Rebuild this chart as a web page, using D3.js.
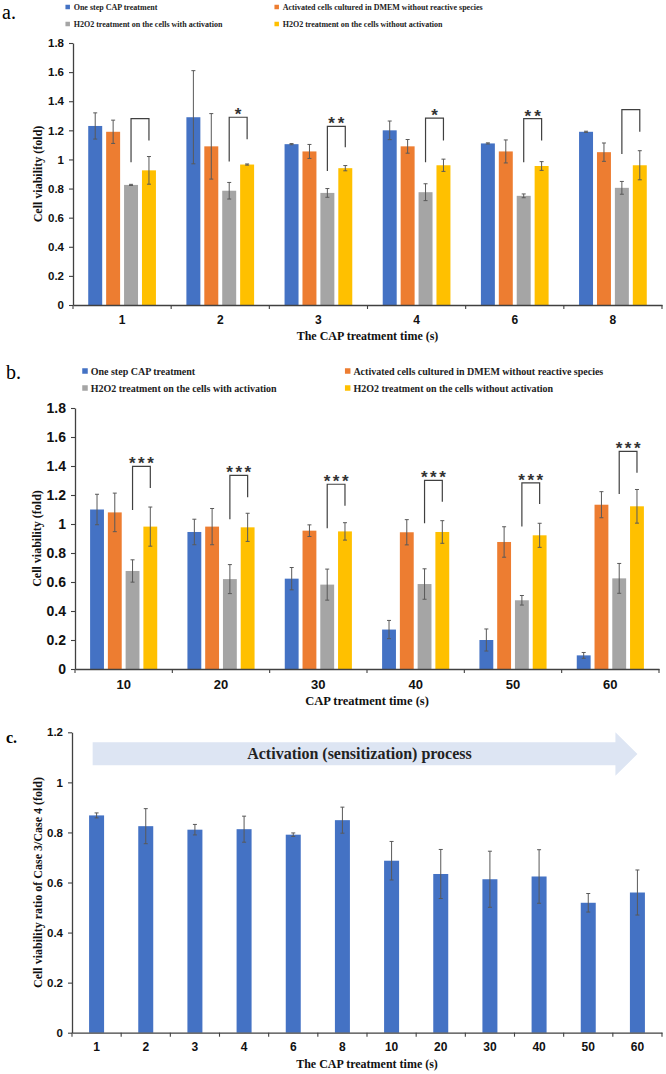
<!DOCTYPE html>
<html>
<head>
<meta charset="utf-8">
<script src="https://cdn.jsdelivr.net/npm/d3@7"></script>
<style>
  body { margin: 0; background: #fff; }
  svg { display: block; font-family: 'Liberation Serif', 'Times New Roman', serif; font-weight: bold; }
</style>
</head>
<body>
<script>
// legend / series
const seriesNames = [
    'One step CAP treatment',
    'Activated cells cultured in DMEM without reactive species',
    'H2O2 treatment on the cells with activation',
    'H2O2 treatment on the cells without activation'
];
const seriesColors = ['#4472C4', '#ED7D31', '#A5A5A5', '#FFC000'];

// panel a (short treatment times)
const timesA = ['1', '2', '3', '4', '6', '8'];
const oneStepA = [1.23, 1.29, 1.105, 1.20, 1.11, 1.19];
const oneStepErrA = [0.09, 0.32, 0.004, 0.064, 0.004, 0.004];
const activatedA = [1.19, 1.09, 1.055, 1.09, 1.055, 1.05];
const activatedErrA = [0.08, 0.225, 0.048, 0.047, 0.079, 0.063];
const h2o2ActA = [0.825, 0.785, 0.77, 0.775, 0.75, 0.805];
const h2o2ActErrA = [0.004, 0.057, 0.03, 0.058, 0.013, 0.044];
const h2o2NoActA = [0.925, 0.965, 0.94, 0.96, 0.955, 0.96];
const h2o2NoActErrA = [0.095, 0.004, 0.018, 0.042, 0.03, 0.1];
const bracketTopA = [1.28, 1.29, 1.227, 1.284, 1.28, 1.342];
const bracketLeftA = [0.98, 0.986, 0.92, 0.98, 0.98, 1.037];
const bracketRightA = [1.13, 1.139, 1.083, 1.13, 1.13, 1.19];
const starsA = ['', '*', '**', '*', '**', ''];

// panel b (long treatment times)
const timesB = ['10', '20', '30', '40', '50', '60'];
const oneStepB = [1.10, 0.945, 0.623, 0.272, 0.20, 0.094];
const oneStepErrB = [0.105, 0.088, 0.077, 0.063, 0.076, 0.02];
const activatedB = [1.08, 0.982, 0.954, 0.943, 0.876, 1.133];
const activatedErrB = [0.133, 0.125, 0.04, 0.087, 0.105, 0.09];
const h2o2ActB = [0.676, 0.62, 0.582, 0.586, 0.474, 0.625];
const h2o2ActErrB = [0.077, 0.1, 0.107, 0.105, 0.033, 0.103];
const h2o2NoActB = [0.982, 0.977, 0.949, 0.945, 0.922, 1.122];
const h2o2NoActErrB = [0.135, 0.097, 0.06, 0.078, 0.083, 0.116];
const bracketTopB = [1.398, 1.336, 1.274, 1.301, 1.283, 1.501];
const bracketLeftB = [1.097, 1.032, 0.97, 1.005, 0.982, 1.207];
const bracketRightB = [1.248, 1.184, 1.126, 1.154, 1.138, 1.354];
const starsB = ['***', '***', '***', '***', '***', '***'];

// panel c (ratio case 3 / case 4)
const timesC = ['1', '2', '3', '4', '6', '8', '10', '20', '30', '40', '50', '60'];
const ratioC = [0.868, 0.825, 0.811, 0.813, 0.791, 0.849, 0.687, 0.634, 0.613, 0.624, 0.519, 0.56];
const ratioErrC = [0.01, 0.07, 0.021, 0.052, 0.007, 0.052, 0.077, 0.098, 0.112, 0.107, 0.037, 0.09];

const yTicksAB = [0, 0.2, 0.4, 0.6, 0.8, 1, 1.2, 1.4, 1.6, 1.8];
const yTicksC = [0, 0.2, 0.4, 0.6, 0.8, 1, 1.2];

const axisColor = '#404040';
const errColor = '#595959';
const fmt = d => String(+d.toFixed(1));

const svg = d3.select('body').append('svg')
    .attr('width', 666)
    .attr('height', 1074);

function styleAxis(g) {
    g.select('.domain').attr('stroke', axisColor).attr('stroke-width', 1.3);
    g.selectAll('.tick line').attr('stroke', axisColor).attr('stroke-width', 1.1);
    g.selectAll('text').attr('fill', '#111').attr('font-family', null);
}

function errorBars(g, data, x, y, cap) {
    const eb = g.append('g').attr('stroke', errColor).attr('stroke-width', 1);
    data.forEach(d => {
        const cx = x(d);
        const y1 = y(d.v + d.e), y2 = y(Math.max(0, d.v - d.e));
        eb.append('line').attr('x1', cx).attr('x2', cx).attr('y1', y1).attr('y2', y2);
        eb.append('line').attr('x1', cx - cap).attr('x2', cx + cap).attr('y1', y1).attr('y2', y1);
        eb.append('line').attr('x1', cx - cap).attr('x2', cx + cap).attr('y1', y2).attr('y2', y2);
    });
}

function groupedPanel(o) {
    const g = svg.append('g');

    const x0 = d3.scaleBand().domain(o.cats).range([o.left, o.right]).padding(0);
    const x1 = d3.scaleBand().domain(d3.range(4)).range([0, x0.bandwidth()])
        .paddingInner(0.22).paddingOuter(0.85);
    const y = d3.scaleLinear().domain([0, 1.8]).range([o.bottom, o.top]);

    // panel label
    g.append('text').attr('x', o.labelX).attr('y', o.labelY)
        .attr('font-size', o.labelSize).attr('font-weight', 'normal')
        .text(o.label);

    // legend
    seriesNames.forEach((name, i) => {
        const lx = o.legendCols[i % 2], ly = o.legendRows[Math.floor(i / 2)];
        g.append('rect')
            .attr('x', lx - o.legendSq / 2).attr('y', ly - o.legendSq / 2)
            .attr('width', o.legendSq).attr('height', o.legendSq)
            .attr('fill', seriesColors[i]);
        g.append('text')
            .attr('x', lx + o.legendGap).attr('y', ly)
            .attr('dy', '0.35em')
            .attr('font-size', o.legendFont)
            .attr('fill', '#222')
            .text(name);
    });

    // bars
    const flat = [];
    o.cats.forEach((c, ci) => {
        o.values.forEach((arr, si) => {
            flat.push({ c, s: si, v: arr[ci], e: o.errs[si][ci] });
        });
    });
    g.append('g').selectAll('rect')
        .data(flat)
        .join('rect')
        .attr('x', d => x0(d.c) + x1(d.s))
        .attr('y', d => y(d.v))
        .attr('width', x1.bandwidth())
        .attr('height', d => y(0) - y(d.v))
        .attr('fill', d => seriesColors[d.s]);

    errorBars(g, flat, d => x0(d.c) + x1(d.s) + x1.bandwidth() / 2, y, 2);

    // significance brackets (between series 3 and 4)
    const br = g.append('g').attr('stroke', axisColor).attr('stroke-width', 1.2).attr('fill', 'none');
    o.cats.forEach((c, ci) => {
        const xl = x0(c) + x1(2) + x1.bandwidth() / 2;
        const xr = x0(c) + x1(3) + x1.bandwidth() / 2;
        br.append('path')
            .attr('d', `M${xl},${y(o.brL[ci])}V${y(o.brT[ci])}H${xr}V${y(o.brR[ci])}`);
        if (o.stars[ci]) {
            g.append('text')
                .attr('x', (xl + xr) / 2 + o.starSpacing / 2)
                .attr('y', y(o.brT[ci]) + o.starDy)
                .attr('text-anchor', 'middle')
                .attr('font-size', o.starFont)
                .attr('font-family', 'Liberation Sans')
                .attr('font-weight', 'bold')
                .attr('letter-spacing', o.starSpacing)
                .attr('fill', '#333')
                .text(o.stars[ci]);
        }
    });

    // y axis
    const gy = g.append('g')
        .attr('transform', `translate(${o.left},0)`)
        .call(d3.axisLeft(y).tickValues(yTicksAB).tickFormat(fmt).tickSize(4).tickSizeOuter(0).tickPadding(5));
    styleAxis(gy);
    gy.selectAll('text').attr('font-size', o.tickFont);

    // x axis, ticks between categories
    const gx = g.append('g')
        .attr('transform', `translate(0,${o.bottom})`)
        .call(d3.axisBottom(x0).tickSize(0).tickSizeOuter(0).tickPadding(o.xTickPad));
    styleAxis(gx);
    gx.selectAll('text').attr('font-size', o.xTickFont);
    gx.selectAll('.sep')
        .data(d3.range(o.cats.length + 1))
        .join('line')
        .attr('class', 'sep')
        .attr('x1', i => o.left + i * x0.step()).attr('x2', i => o.left + i * x0.step())
        .attr('y1', 0).attr('y2', 4)
        .attr('stroke', axisColor).attr('stroke-width', 1.1);

    // axis titles
    g.append('text')
        .attr('transform', `translate(${o.yTitleX},${(o.top + o.bottom) / 2}) rotate(-90)`)
        .attr('text-anchor', 'middle').attr('dy', '0.35em')
        .attr('font-size', o.titleFont).attr('fill', '#111')
        .text('Cell viability (fold)');
    g.append('text')
        .attr('x', (o.left + o.right) / 2).attr('y', o.xTitleY)
        .attr('text-anchor', 'middle')
        .attr('font-size', o.xTitleFont).attr('fill', '#111')
        .text(o.xTitle);
}

groupedPanel({
    cats: timesA,
    values: [oneStepA, activatedA, h2o2ActA, h2o2NoActA],
    errs: [oneStepErrA, activatedErrA, h2o2ActErrA, h2o2NoActErrA],
    brT: bracketTopA, brL: bracketLeftA, brR: bracketRightA, stars: starsA,
    left: 73, right: 662, top: 43, bottom: 305,
    label: 'a.', labelX: 2, labelY: 19, labelSize: 20,
    legendCols: [67.7, 276.7], legendRows: [7, 24], legendSq: 4.5, legendGap: 6, legendFont: 8,
    tickFont: 11.5, xTickFont: 12, xTickPad: 10,
    titleFont: 12, yTitleX: 38,
    xTitle: 'The CAP treatment time (s)', xTitleY: 340, xTitleFont: 12,
    starFont: 17, starSpacing: 3, starDy: 3
});

groupedPanel({
    cats: timesB,
    values: [oneStepB, activatedB, h2o2ActB, h2o2NoActB],
    errs: [oneStepErrB, activatedErrB, h2o2ActErrB, h2o2NoActErrB],
    brT: bracketTopB, brL: bracketLeftB, brR: bracketRightB, stars: starsB,
    left: 75, right: 659, top: 408, bottom: 669,
    label: 'b.', labelX: 6, labelY: 379, labelSize: 20,
    legendCols: [85, 347.7], legendRows: [371, 388], legendSq: 5.5, legendGap: 5.7, legendFont: 10,
    tickFont: 14, xTickFont: 13, xTickPad: 11,
    titleFont: 12, yTitleX: 37,
    xTitle: 'CAP treatment time (s)', xTitleY: 705, xTitleFont: 12.5,
    starFont: 17, starSpacing: 2.5, starDy: 3
});

// panel c
(function () {
    const left = 72, right = 662, top = 732.3, bottom = 1032.7;
    const g = svg.append('g');
    const x = d3.scaleBand().domain(timesC).range([left, right]).padding(0);
    const y = d3.scaleLinear().domain([0, 1.2]).range([bottom, top]);
    const bw = x.bandwidth() * 0.305;

    g.append('text').attr('x', 6).attr('y', 743)
        .attr('font-size', 16).text('c.');

    // activation arrow
    const ax0 = x(timesC[0]) + x.bandwidth() * 0.42;
    const tip = x(timesC[timesC.length - 1]) + x.bandwidth() / 2;
    const hx = tip - 22;
    const bodyTop = y(1.16), bodyBot = y(1.068), headTop = y(1.2), headBot = y(1.026);
    g.append('path')
        .attr('d', `M${ax0},${bodyTop}H${hx}V${headTop}L${tip},${(headTop + headBot) / 2}L${hx},${headBot}V${bodyBot}H${ax0}Z`)
        .attr('fill', '#dde5f3');
    g.append('text')
        .attr('x', 359.5).attr('y', (bodyTop + bodyBot) / 2)
        .attr('dy', '0.35em').attr('text-anchor', 'middle')
        .attr('font-size', 16).attr('fill', '#222')
        .text('Activation (sensitization) process');

    const data = timesC.map((c, i) => ({ c, v: ratioC[i], e: ratioErrC[i] }));
    g.append('g').selectAll('rect')
        .data(data)
        .join('rect')
        .attr('x', d => x(d.c) + (x.bandwidth() - bw) / 2)
        .attr('y', d => y(d.v))
        .attr('width', bw)
        .attr('height', d => y(0) - y(d.v))
        .attr('fill', seriesColors[0]);
    errorBars(g, data, d => x(d.c) + x.bandwidth() / 2, y, 2);

    const gy = g.append('g')
        .attr('transform', `translate(${left},0)`)
        .call(d3.axisLeft(y).tickValues(yTicksC).tickFormat(fmt).tickSize(4).tickSizeOuter(0).tickPadding(5));
    styleAxis(gy);
    gy.selectAll('text').attr('font-size', 11.5);

    const gx = g.append('g')
        .attr('transform', `translate(0,${bottom})`)
        .call(d3.axisBottom(x).tickSize(0).tickSizeOuter(0).tickPadding(10));
    styleAxis(gx);
    gx.selectAll('text').attr('font-size', 12);
    gx.selectAll('.sep')
        .data(d3.range(timesC.length + 1))
        .join('line')
        .attr('class', 'sep')
        .attr('x1', i => left + i * x.step()).attr('x2', i => left + i * x.step())
        .attr('y1', 0).attr('y2', 4)
        .attr('stroke', axisColor).attr('stroke-width', 1.1);

    g.append('text')
        .attr('transform', `translate(38,${(top + bottom) / 2}) rotate(-90)`)
        .attr('text-anchor', 'middle').attr('dy', '0.35em')
        .attr('font-size', 12).attr('fill', '#111')
        .text('Cell viability ratio of Case 3/Case 4 (fold)');
    g.append('text')
        .attr('x', (left + right) / 2).attr('y', 1068)
        .attr('text-anchor', 'middle')
        .attr('font-size', 12).attr('fill', '#111')
        .text('The CAP treatment time (s)');
})();
</script>
</body>
</html>
